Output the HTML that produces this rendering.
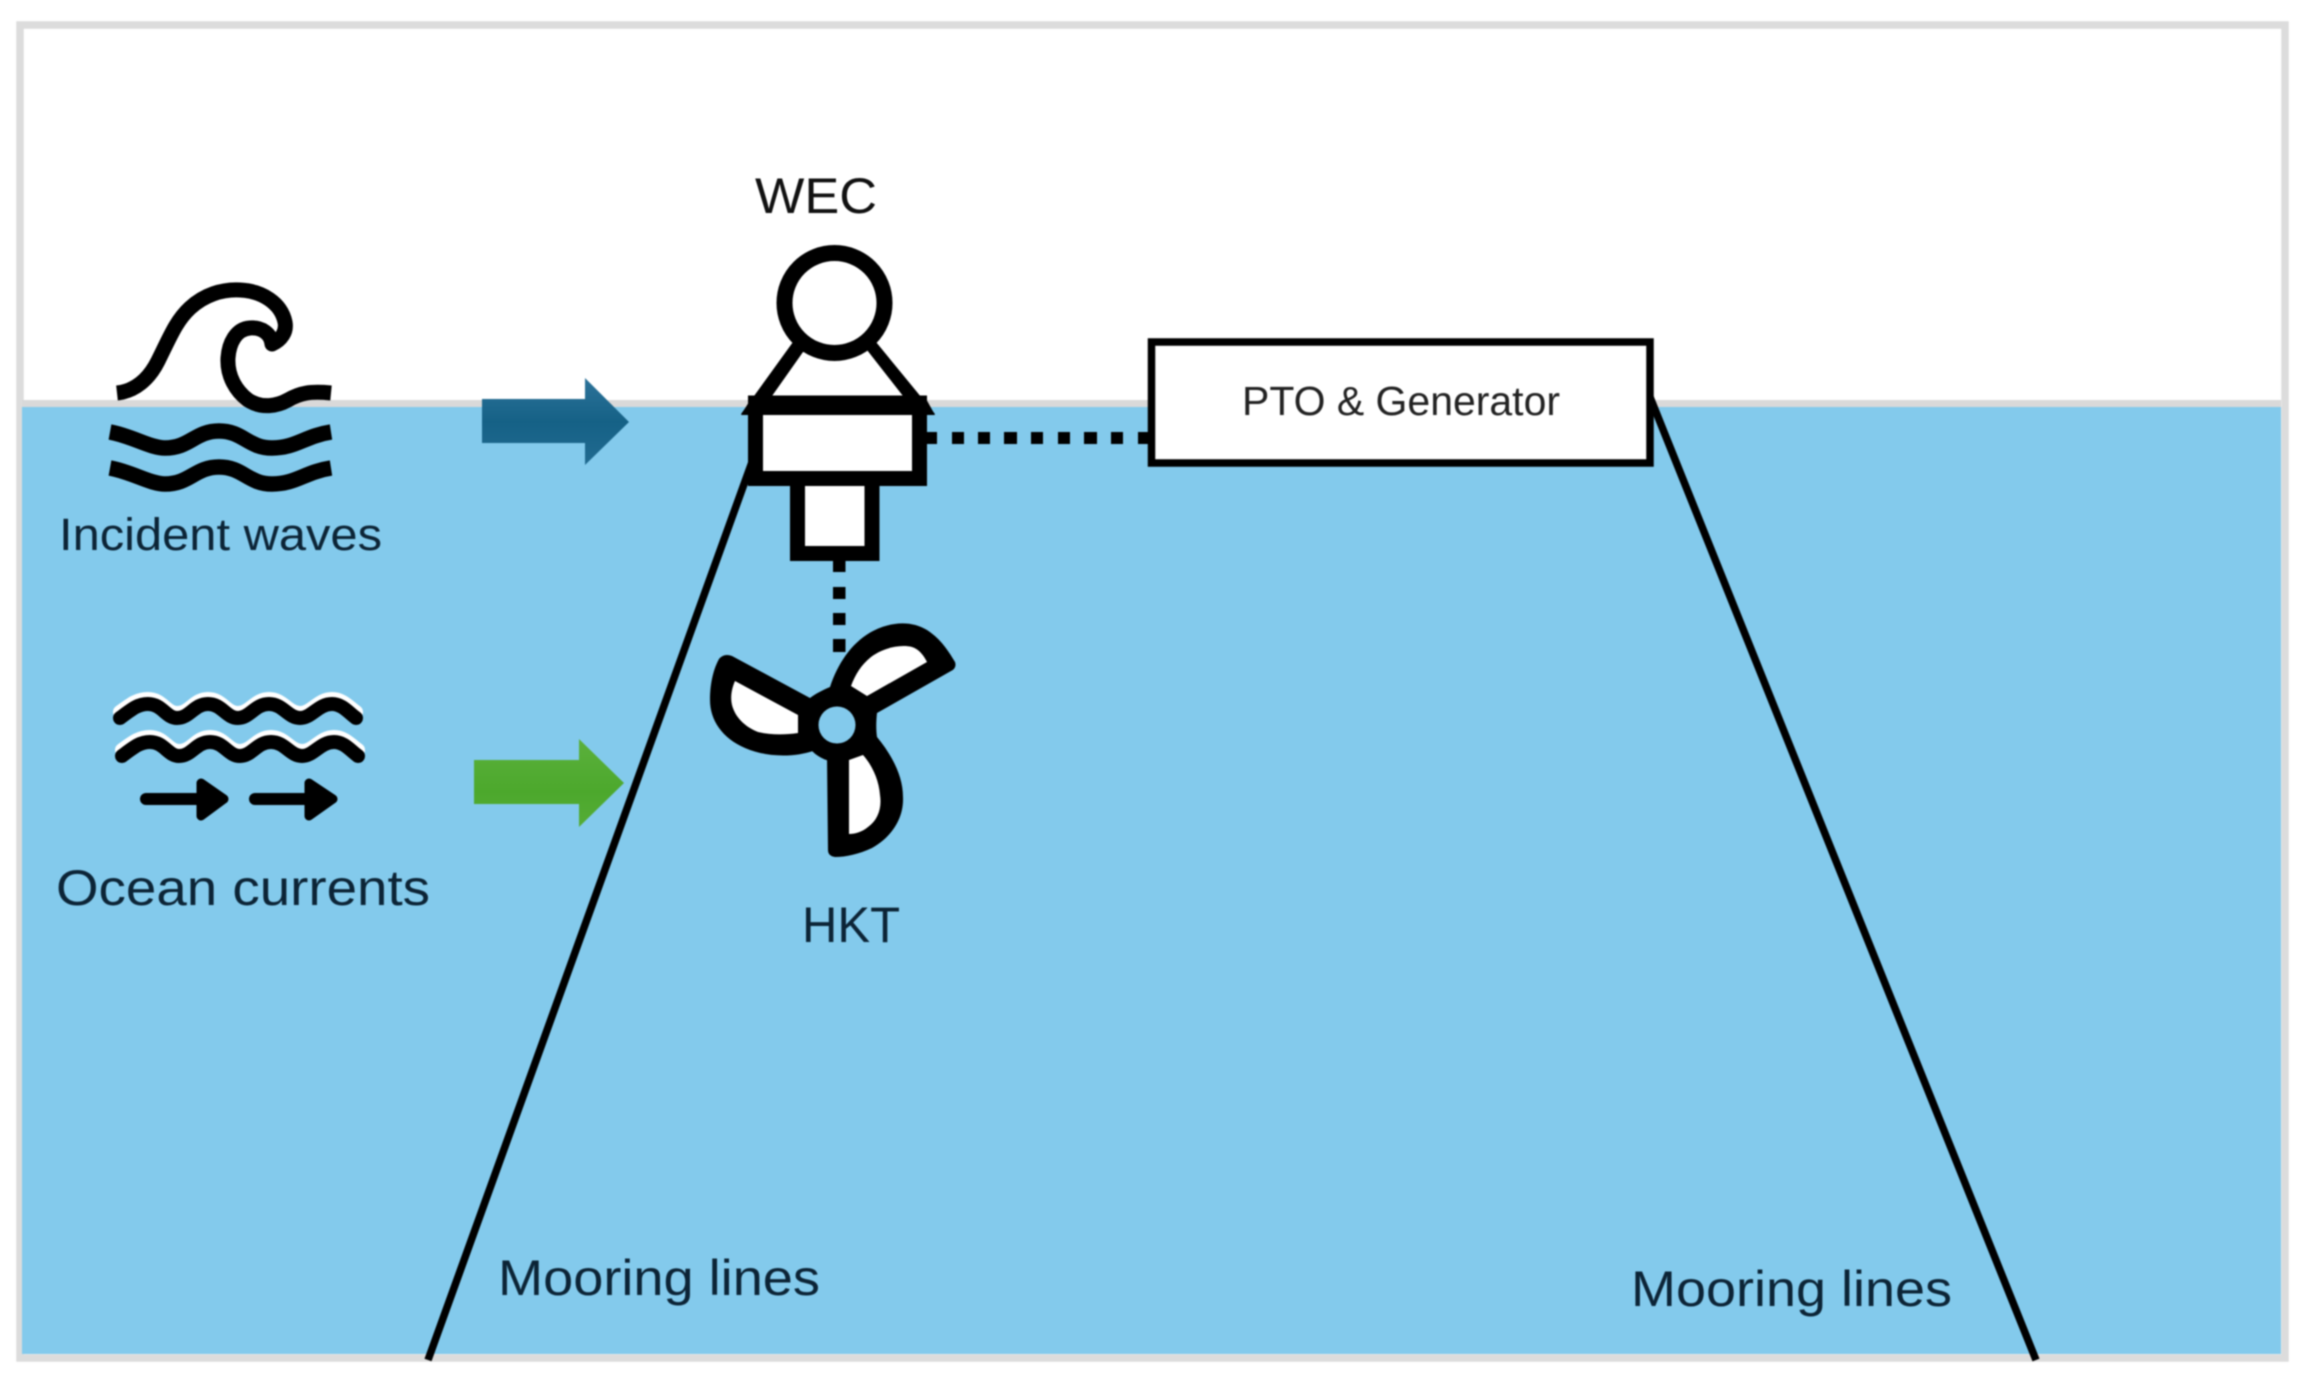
<!DOCTYPE html>
<html>
<head>
<meta charset="utf-8">
<style>
html,body{margin:0;padding:0;background:#fff;width:2313px;height:1389px;overflow:hidden}
svg{display:block;filter:blur(0.8px)}
text{font-family:"Liberation Sans",sans-serif;fill:#0c2436}
</style>
</head>
<body>
<svg width="2313" height="1389" viewBox="0 0 2313 1389" xmlns="http://www.w3.org/2000/svg">
<defs>
<linearGradient id="bl" x1="0" y1="0" x2="0" y2="1"><stop offset="0" stop-color="#2c7299"/><stop offset="0.5" stop-color="#156186"/><stop offset="1" stop-color="#216a90"/></linearGradient>
<linearGradient id="gr" x1="0" y1="0" x2="0" y2="1"><stop offset="0" stop-color="#5bb03c"/><stop offset="0.6" stop-color="#4ca82c"/><stop offset="1" stop-color="#55ac36"/></linearGradient>
</defs>
<rect width="2313" height="1389" fill="#fff"/>
<!-- frame -->
<rect x="20" y="25" width="2265" height="1333" fill="#fff" stroke="#dcdcdc" stroke-width="7.500"/>
<!-- water -->
<rect x="22" y="407" width="2259" height="947" fill="#83caec"/>
<rect x="22" y="400" width="2259" height="7" fill="#d9d9d9"/>

<!-- mooring lines -->
<line x1="428" y1="1360" x2="752" y2="462" stroke="#000" stroke-width="7.5"/>
<line x1="1648" y1="392" x2="2036" y2="1360" stroke="#000" stroke-width="7.5"/>

<!-- big wave icon -->
<g fill="none" stroke="#000" stroke-width="15" stroke-linecap="butt" stroke-linejoin="round">
<path d="M117 393 C135 391 149 379 158 361 C170 337 176 321 190 308 C204 295 222 289 240 290 C262 291 281 303 285 322 C287 332 281 340 272 344 C271 334 262 327 250 328 C236 329 229 343 228 358 C227 376 236 391 248 400 C262 409 277 406 288 400 C300 393 310 391 331 393"/>
<path d="M110 432 C132 436 150 448 165 448 C190 448 195 431 219 431 C243 431 248 448 272 448 C296 448 305 436 331 432" stroke-width="15.500"/>
<path d="M110 468 C132 472 150 484 165 484 C190 484 195 467 219 467 C243 467 248 484 272 484 C296 484 305 472 331 468" stroke-width="15.500"/>
</g>

<!-- blue arrow -->
<polygon points="482,399 585,399 585,378 629,422 585,465 585,443 482,443" fill="url(#bl)"/>

<!-- dotted connectors -->
<g fill="#000">
<rect x="925" y="432" width="12" height="12"/><rect x="952" y="432" width="12" height="12"/><rect x="978" y="432" width="12" height="12"/><rect x="1004" y="432" width="13" height="12"/><rect x="1031" y="432" width="12" height="12"/><rect x="1058" y="432" width="12" height="12"/><rect x="1084" y="432" width="13" height="12"/><rect x="1111" y="432" width="12" height="12"/><rect x="1138" y="432" width="12" height="12"/>
<rect x="833" y="560" width="12.500" height="12"/><rect x="833" y="587" width="12.500" height="12"/><rect x="833" y="613" width="12.500" height="12"/><rect x="833" y="639" width="12.500" height="13"/>
</g>

<!-- WEC buoy -->
<polygon points="741,414 793,342 876,342 935,414" fill="#000"/>
<polygon points="772,396 803,352 867,350 903,396" fill="#fff"/>
<circle cx="834.500" cy="303" r="50" fill="#fff" stroke="#000" stroke-width="16"/>
<rect x="755.500" y="403" width="164" height="75.500" fill="#fff" stroke="#000" stroke-width="15"/>
<polygon points="741,415 752,397 925,397 935,415" fill="#000"/>
<rect x="797.500" y="478.500" width="74.500" height="75" fill="#fff" stroke="#000" stroke-width="15"/>

<!-- PTO box -->
<rect x="1151.500" y="342" width="498.500" height="121" fill="#fff" stroke="#000" stroke-width="7.500"/>
<text x="1242" y="415" font-size="41" textLength="318" lengthAdjust="spacingAndGlyphs" style="fill:#222">PTO &amp; Generator</text>

<!-- turbine -->
<g>
<path d="M830 687 C838 663 852 642 873 631 C893 621 912 621 927 630 C941 639 949 652 955 662 Q957 668 951 671 L877 713 C876 722 876 730 877 737 C891 754 903 775 903 797 C904 820 890 838 872 848 C859 854 846 857 835 857 Q828 856 828 850 L827 757 C822 755 816 752 813 751 C795 757 768 758 745 748 C722 738 710 720 710 700 C710 682 714 668 719 659 Q724 653 732 656 L810 698 C815 694 823 690 830 687 Z" fill="#000"/>
<circle cx="838" cy="726" r="36" fill="#000"/>
<path d="M851 686 C855 675 861 665 871 657 C883 648 900 644 912 647 C919 649 924 656 927 662 L867 696 Z" fill="#fff"/>
<path d="M735 681 L798 715 L798 733 C785 735 770 735 758 732 C745 727 735 717 732 705 C730 696 732 688 735 681 Z" fill="#fff"/>
<path d="M849 760 L863 755 C872 765 879 780 880 795 C882 808 878 820 868 827 C862 832 855 834 849 834 Z" fill="#fff"/>
<circle cx="837" cy="725" r="18.500" fill="#83caec"/>
</g>

<!-- ocean currents icon -->
<g fill="none" stroke-linecap="round" stroke-linejoin="round">
<path d="M120 712 C132 703 138 699 148 699 C162 699 166 713 177 713 C190 713 194 699 208 699 C222 699 226 713 238 713 C250 713 255 699 269 699 C283 699 288 713 300 713 C312 713 318 699 332 699 C342 699 348 706 356 712" stroke="#fff" stroke-width="14"/>
<path d="M120 718 C132 709 138 704 148 704 C162 704 166 718 177 718 C190 718 194 704 208 704 C222 704 226 718 238 718 C250 718 255 704 269 704 C283 704 288 718 300 718 C312 718 318 704 332 704 C342 704 348 712 356 718" stroke="#000" stroke-width="14"/>
<path d="M122 750 C134 741 140 737 150 737 C164 737 168 751 179 751 C192 751 196 737 210 737 C224 737 228 751 240 751 C252 751 257 737 271 737 C285 737 290 751 302 751 C314 751 320 737 334 737 C344 737 350 744 358 750" stroke="#fff" stroke-width="14"/>
<path d="M122 756 C134 747 140 742 150 742 C164 742 168 756 179 756 C192 756 196 742 210 742 C224 742 228 756 240 756 C252 756 257 742 271 742 C285 742 290 756 302 756 C314 756 320 742 334 742 C344 742 350 750 358 756" stroke="#000" stroke-width="14"/>
<line x1="146" y1="799" x2="205" y2="799" stroke="#000" stroke-width="12"/>
<line x1="255" y1="799" x2="312" y2="799" stroke="#000" stroke-width="12"/>
</g>
<g fill="#000" stroke="#000" stroke-width="9" stroke-linejoin="round">
<polygon points="201,783 224,799 201,816"/>
<polygon points="309,783 333,799 309,816"/>
</g>

<!-- green arrow -->
<polygon points="474,760 579,760 579,739 624,783 579,827 579,804 474,804" fill="url(#gr)"/>

<!-- labels -->
<text x="755" y="213" font-size="50" textLength="122" lengthAdjust="spacingAndGlyphs" style="fill:#111">WEC</text>
<text x="59" y="550" font-size="45" textLength="323" lengthAdjust="spacingAndGlyphs">Incident waves</text>
<text x="56" y="905" font-size="50" textLength="374" lengthAdjust="spacingAndGlyphs">Ocean currents</text>
<text x="802" y="942" font-size="50" textLength="98" lengthAdjust="spacingAndGlyphs">HKT</text>
<text x="498" y="1295" font-size="50" textLength="322" lengthAdjust="spacingAndGlyphs">Mooring lines</text>
<text x="1631" y="1306" font-size="50" textLength="321" lengthAdjust="spacingAndGlyphs">Mooring lines</text>
</svg>
</body>
</html>
